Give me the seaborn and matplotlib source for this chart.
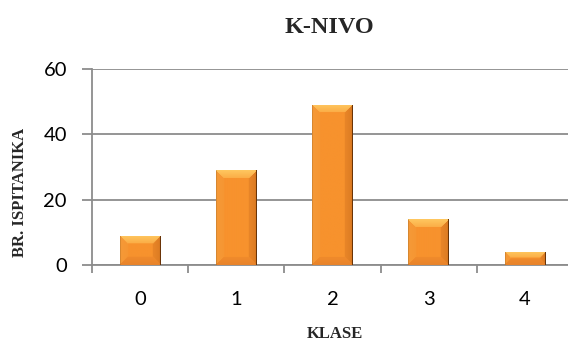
import numpy as np
import pandas as pd
import matplotlib
matplotlib.use("Agg")
import matplotlib.pyplot as plt
from matplotlib.colors import to_rgb
import seaborn as sns

# Number of respondents per class
klase = ["0", "1", "2", "3", "4"]
broj = [9, 29, 49, 14, 4]
y_ticks = [0, 20, 40, 60]

title = "K-NIVO"
x_label = "KLASE"
y_label = "BR. ISPITANIKA"

df = pd.DataFrame({"klasa": klase, "broj": broj})

sns.set_style("white")
plt.rcParams["font.family"] = ["Lato", "DejaVu Sans"]

DPI = 100
fig = plt.figure(figsize=(5.68, 3.42), dpi=DPI)
ax = fig.add_axes([92 / 568, 77 / 342, 481 / 568, 196 / 342])

sns.barplot(data=df, x="klasa", y="broj", color="#F7922D", width=0.42,
            ax=ax, zorder=2, saturation=1, linewidth=0)

ax.set_xlim(-0.5, len(klase) - 0.5)
ax.set_ylim(0, 60)
ax.set_yticks(y_ticks)
ax.set_xlabel("")
ax.set_ylabel("")

grid_col = "#8C8C8C"
ax.set_axisbelow(True)
ax.yaxis.grid(True, color=grid_col, linewidth=1.3)
ax.xaxis.grid(False)
for s in ["top", "right"]:
    ax.spines[s].set_visible(False)
for s in ["left", "bottom"]:
    ax.spines[s].set_color(grid_col)
    ax.spines[s].set_linewidth(1.3)

# Category separators as ticks on the x axis, labels centred under bars
ax.set_xticks(np.arange(-0.5, len(klase) + 0.5, 1.0), minor=True)
ax.tick_params(axis="x", which="minor", length=6, width=1.3, color=grid_col,
               direction="out", bottom=True)
ax.tick_params(axis="x", which="major", length=0, pad=19, labelsize=14.5,
               labelcolor="#000000")
ax.tick_params(axis="y", which="major", length=7, width=1.3, color=grid_col,
               direction="out", left=True, pad=11, labelsize=14.5,
               labelcolor="#000000")


def bevel_image(wpx, hpx):
    """Soft-bevel shading for one bar, sized in pixels."""
    base = np.array(to_rgb("#F7922D"))
    top_c = np.array(to_rgb("#FFC860"))
    left_c = np.array(to_rgb("#F59A38"))
    right_c = np.array(to_rgb("#DB7A22"))
    bot_c = np.array(to_rgb("#E8832A"))
    edge_c = np.array(to_rgb("#6A3408"))
    b = min(8.0, hpx / 2.0, wpx / 2.0)
    yy, xx = np.mgrid[0:hpx, 0:wpx].astype(float) + 0.5
    dt, db = yy, hpx - yy
    dl, dr = xx, wpx - xx
    d = np.stack([dt, db, dl, dr])
    region = np.argmin(d, axis=0)
    dmin = np.min(d, axis=0)
    cols = [top_c, bot_c, left_c, right_c]
    img = np.empty((hpx, wpx, 3))
    img[:] = base
    for i, c in enumerate(cols):
        m = (region == i) & (dmin < b)
        t = (dmin[m] / b)[:, None]
        img[m] = c * (1 - 0.5 * t) + base * 0.5 * t
    # thin dark outline on the right edge
    m = dr < 1.0
    img[m] = edge_c
    m = (dl < 1.0)
    img[m] = img[m] * 0.88
    return img


fig.canvas.draw()
for patch in list(ax.patches):
    x0, y0 = patch.get_x(), patch.get_y()
    w, h = patch.get_width(), patch.get_height()
    p0 = ax.transData.transform((x0, y0))
    p1 = ax.transData.transform((x0 + w, y0 + h))
    wpx = max(int(round(p1[0] - p0[0])), 2)
    hpx = max(int(round(p1[1] - p0[1])), 2)
    img = bevel_image(wpx, hpx)
    im = ax.imshow(img, extent=[x0, x0 + w, y0, y0 + h], origin="upper",
                   aspect="auto", zorder=3, interpolation="bilinear")
    im.set_clip_path(patch)
ax.set_xlim(-0.5, len(klase) - 0.5)
ax.set_ylim(0, 60)

serif = ["Liberation Serif", "DejaVu Serif"]
fig.text(329 / 568, 1 - 33 / 342, title, ha="center", va="baseline",
         fontsize=17.5, fontweight="bold", family=serif)
fig.text(335 / 568, 1 - 338 / 342, x_label, ha="center", va="baseline",
         fontsize=12, fontweight="bold", family=serif)
fig.text(20 / 568, 1 - 192 / 342, y_label, ha="center", va="center",
         rotation=90, fontsize=12, fontweight="bold", family=serif)

fig.savefig("out.png", dpi=DPI)
